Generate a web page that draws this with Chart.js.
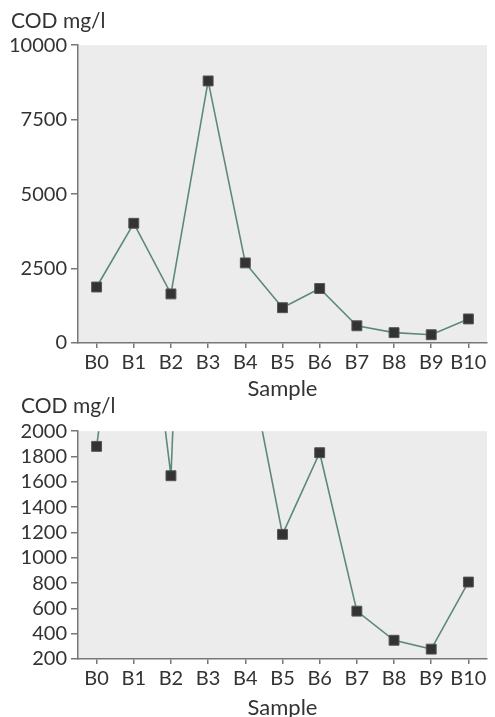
<!DOCTYPE html>
<html>
<head>
<meta charset="utf-8">
<script src="https://cdn.jsdelivr.net/npm/chart.js@4"></script>
<style>
  html, body { margin: 0; padding: 0; background: #fff; overflow: hidden; }
  .box { position: absolute; left: 0; width: 495px; }
  #top { top: 0; height: 405px; }
  #bottom { top: 385px; height: 345px; }
</style>
</head>
<body>
<div class="box" id="top"><canvas id="chart-top"></canvas></div>
<div class="box" id="bottom"><canvas id="chart-bottom"></canvas></div>
<script>
// data
const samples = ["B0", "B1", "B2", "B3", "B4", "B5", "B6", "B7", "B8", "B9", "B10"];
const cod = [1880, 4020, 1648, 8800, 2690, 1185, 1830, 578, 348, 278, 808];
const topTicks = [0, 2500, 5000, 7500, 10000];
const zoomTicks = [200, 400, 600, 800, 1000, 1200, 1400, 1600, 1800, 2000];

const FONT = "Lato, 'DejaVu Sans', sans-serif";
const TEXT = "#333";
const AXIS = "#777";

const plotBg = {
  id: 'plotBg',
  beforeDraw(chart) {
    const a = chart.chartArea;
    chart.ctx.save();
    chart.ctx.fillStyle = "#ececec";
    chart.ctx.fillRect(a.left, a.top, a.right - a.left, a.bottom - a.top);
    chart.ctx.restore();
  }
};

function makeChart(id, ticks, opts) {
  return new Chart(document.getElementById(id), {
    type: 'line',
    data: {
      labels: samples,
      datasets: [{
        data: cod,
        borderColor: "#5b8a76",
        borderWidth: 1.6,
        pointStyle: 'rect',
        pointRadius: 7,
        pointHoverRadius: 7,
        pointBackgroundColor: "#333",
        pointBorderColor: "#555",
        pointBorderWidth: 1,
        tension: 0,
        clip: 0
      }]
    },
    options: {
      responsive: true,
      maintainAspectRatio: false,
      animation: false,
      layout: { padding: { left: opts.left, right: 2, top: 0, bottom: 0 } },
      plugins: {
        legend: { display: false },
        tooltip: { enabled: false },
        title: {
          display: true,
          text: "COD mg/l",
          align: 'start',
          color: TEXT,
          font: { family: FONT, size: 21, weight: 'normal', lineHeight: 1.2 },
          padding: { top: opts.titleTop, bottom: opts.titleBottom }
        }
      },
      scales: {
        x: {
          offset: true,
          grid: { display: true, drawOnChartArea: false, tickLength: 5, color: AXIS, lineWidth: 1.5 },
          border: { display: true, color: AXIS, width: 1.5 },
          ticks: { color: TEXT, font: { family: FONT, size: 20 }, padding: 3, maxRotation: 0, autoSkip: false },
          title: {
            display: true,
            text: "Sample",
            color: TEXT,
            font: { family: FONT, size: 22 },
            padding: { top: 0, bottom: opts.sampleBottom }
          },
          afterFit: s => { s.height = opts.xHeight; }
        },
        y: {
          min: ticks[0],
          max: ticks[ticks.length - 1],
          afterBuildTicks: s => { s.ticks = ticks.map(v => ({ value: v })); },
          grid: { display: true, drawOnChartArea: false, tickLength: 7, color: AXIS, lineWidth: 1.5 },
          border: { display: true, color: AXIS, width: 1.5 },
          ticks: {
            color: TEXT, font: { family: FONT, size: 20 }, padding: 4, autoSkip: false,
            callback: v => String(v)
          },
          afterFit: s => { s.width = 78 - opts.left; }
        }
      }
    },
    plugins: [plotBg]
  });
}

makeChart("chart-top", topTicks, { left: 11, titleTop: 9, titleBottom: 11, xHeight: 62, sampleBottom: 3 });
makeChart("chart-bottom", zoomTicks, { left: 21, titleTop: 9, titleBottom: 12, xHeight: 71, sampleBottom: 9 });
</script>
</body>
</html>
